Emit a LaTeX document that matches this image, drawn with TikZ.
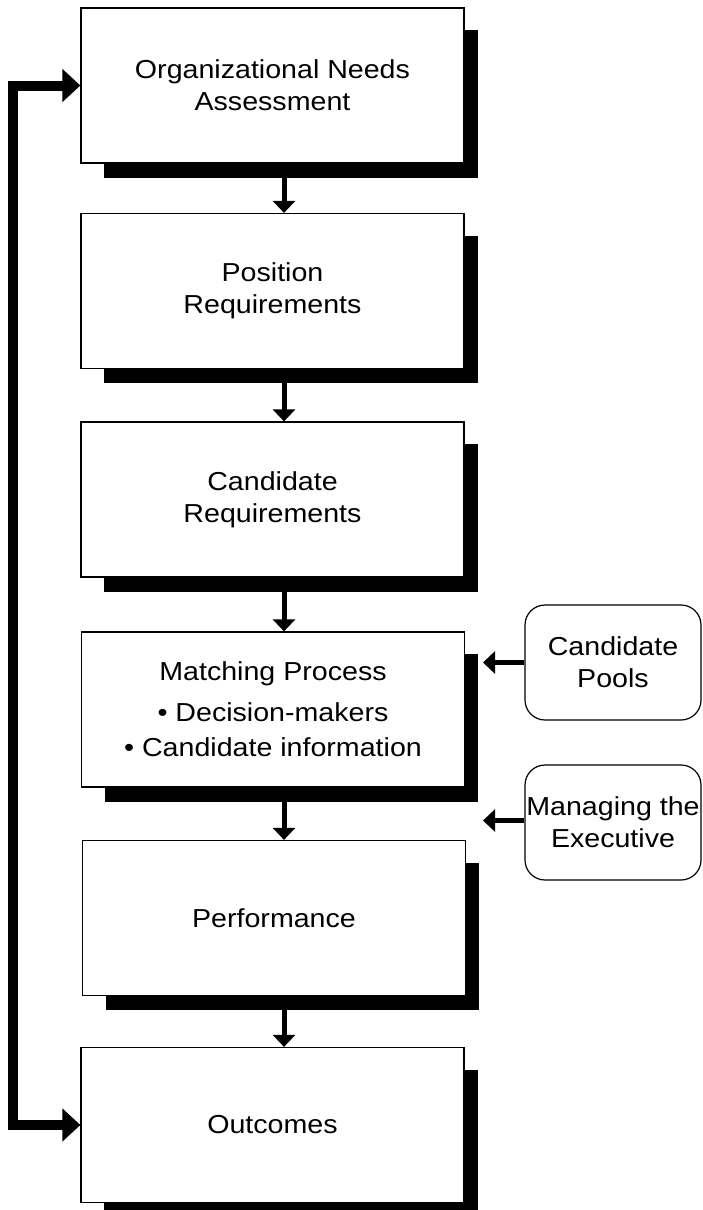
\documentclass[tikz,border=0pt]{standalone}
\usepackage{fontspec}
\setmainfont{Liberation Sans}
\newfontfamily\boxfont[FakeStretch=1.1]{Liberation Sans}
\usetikzlibrary{arrows.meta,backgrounds}

\begin{document}
\begin{tikzpicture}[x = 0.5pt,
y = -0.5pt,
mainbox/.style = {draw, line width=0.6pt, fill=white, minimum width=191.5pt, minimum height=77.5pt, inner sep=0pt, align=center, font=\boxfont\fontsize{13}{16}\selectfont},
sidebox/.style = {draw, line width=0.6pt, fill=white, rounded corners=10pt, minimum width=88pt, minimum height=57.5pt, inner sep=0pt, align=center, font=\boxfont\fontsize{13}{16}\selectfont},
flowarrow/.style = {line width=2.5pt, -{Triangle[width=11pt,length=6pt]}},
backarrow/.style = {line width=5pt, line join=miter, {Triangle[width=16pt,length=9pt]}-{Triangle[width=16pt,length=9pt]}}]
\useasboundingbox (0,0) rectangle (702,1210);

\node[mainbox] (needs) at (272.5,85.5) {Organizational Needs\\Assessment};
\node[mainbox] (posreq) at (272.5,291) {Position\\Requirements};
\node[mainbox] (candreq) at (272.5,499.5) {Candidate\\Requirements};
\node[mainbox] (match) at (273,709.5) {Matching Process\\[4.5pt]• Decision-makers\\[1.5pt]• Candidate information};
\node[mainbox] (perf) at (274,918) {Performance};
\node[mainbox] (outc) at (272.5,1125) {Outcomes};

\node[sidebox] (pools) at (613,662.5) {Candidate\\Pools};
\node[sidebox] (manage) at (613,822.5) {Managing the\\Executive};
\coordinate (tipx) at (483,0);
\coordinate (flowx) at (284,0);

\begin{scope}[on background layer]
\foreach \n in {needs,posreq,candreq,match,perf,outc}
  \fill ([xshift=12pt,yshift=-11.5pt]\n.north west) rectangle ([xshift=6.5pt,yshift=-7pt]\n.south east);
\end{scope}

\draw[flowarrow] ([yshift=-7pt]needs.south -| flowx) -- (posreq.north -| flowx);
\draw[flowarrow] ([yshift=-7pt]posreq.south -| flowx) -- (candreq.north -| flowx);
\draw[flowarrow] ([yshift=-7pt]candreq.south -| flowx) -- (match.north -| flowx);
\draw[flowarrow] ([yshift=-7pt]match.south -| flowx) -- (perf.north -| flowx);
\draw[flowarrow] ([yshift=-7pt]perf.south -| flowx) -- (outc.north -| flowx);

\draw[flowarrow] (pools.west) -- (pools.west -| tipx);
\draw[flowarrow] ([yshift=1pt]manage.west) -- ([yshift=1pt]manage.west -| tipx);

\draw[backarrow] (outc.west) -- ++(-67,0) |- (needs.west);
\end{tikzpicture}
\end{document}
